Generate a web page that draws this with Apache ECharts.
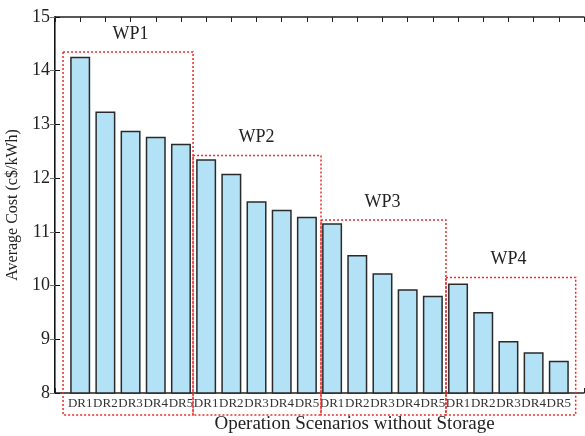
<!DOCTYPE html>
<html>
<head>
<meta charset="utf-8">
<script src="https://cdn.jsdelivr.net/npm/echarts@6/dist/echarts.min.js"></script>
<style>
    html, body { margin: 0; padding: 0; background: #fff; }
    #chart { width: 585px; height: 436px; }
</style>
</head>
<body>
<div id="chart"></div>
<script>
// scenario labels under each bar
var drLabels = ['DR1', 'DR2', 'DR3', 'DR4', 'DR5'];
var yTicks = [8, 9, 10, 11, 12, 13, 14, 15];

// average cost per wind penetration group (c$/kWh)
var wp1Cost = [14.26, 13.24, 12.88, 12.77, 12.64];
var wp2Cost = [12.35, 12.08, 11.57, 11.41, 11.28];
var wp3Cost = [11.16, 10.57, 10.23, 9.93, 9.81];
var wp4Cost = [10.04, 9.51, 8.97, 8.76, 8.60];

// dotted group boxes: [xLeft, xRight, yTop, yBottom]
var groupNames = ['WP1', 'WP2', 'WP3', 'WP4'];
var groupBoxes = [
    [0.32, 5.48, 14.35, 7.59],
    [5.48, 10.56, 12.42, 7.59],
    [10.56, 15.52, 11.22, 7.59],
    [15.52, 20.67, 10.15, 7.59]
];

var serifFont = "'Liberation Serif', 'DejaVu Serif', serif";

var barData = [];
[wp1Cost, wp2Cost, wp3Cost, wp4Cost].forEach(function (group, g) {
    group.forEach(function (v, i) {
        barData.push([g * 5 + i + 1, v]);
    });
});

var boxData = groupBoxes.map(function (b, i) {
    return [b[0], b[1], b[2], b[3], i];
});

// group label sits over the middle bar of each group
function groupCenter(idx) {
    return idx * 5 + 3;
}

var chart = echarts.init(document.getElementById('chart'));

chart.setOption({
    animation: false,
    grid: {
        left: 55, right: 1, top: 17, bottom: 43,
        containLabel: false,
        outerBoundsMode: 'none'
    },
    xAxis: [
        {
            type: 'value',
            min: 0,
            max: 21,
            interval: 1,
            splitLine: { show: false },
            axisLine: { lineStyle: { color: '#222', width: 1.5 } },
            axisTick: { inside: true, length: 5, lineStyle: { color: '#222' } },
            axisLabel: {
                margin: 4,
                fontFamily: serifFont,
                fontSize: 13,
                color: '#333',
                formatter: function (v) {
                    if (v < 1 || v > 20) return '';
                    return drLabels[(v - 1) % 5];
                }
            },
            name: 'Operation Scenarios without Storage',
            nameLocation: 'middle',
            nameGap: 20,
            nameTextStyle: {
                fontFamily: serifFont,
                fontSize: 19,
                color: '#222',
                padding: [0, 0, 0, 70]
            }
        },
        {
            type: 'value',
            position: 'top',
            min: 0,
            max: 21,
            interval: 1,
            splitLine: { show: false },
            axisLine: { lineStyle: { color: '#222', width: 1.5 } },
            axisTick: { inside: true, length: 5, lineStyle: { color: '#222' } },
            axisLabel: { show: false }
        }
    ],
    yAxis: [
        {
            type: 'value',
            min: yTicks[0],
            max: yTicks[yTicks.length - 1],
            interval: 1,
            splitLine: { show: false },
            axisLine: { lineStyle: { color: '#111', width: 2 } },
            axisTick: { inside: true, length: 5, lineStyle: { color: '#111' } },
            axisLabel: {
                margin: 5,
                fontFamily: serifFont,
                fontSize: 18,
                color: '#222'
            },
            name: 'Average Cost (c$/kWh)',
            nameLocation: 'middle',
            nameGap: 33,
            nameTextStyle: {
                fontFamily: serifFont,
                fontSize: 16,
                color: '#222'
            }
        },
        {
            type: 'value',
            position: 'right',
            min: yTicks[0],
            max: yTicks[yTicks.length - 1],
            interval: 1,
            splitLine: { show: false },
            axisLine: { lineStyle: { color: '#777', width: 1 } },
            axisTick: { inside: true, length: 5, lineStyle: { color: '#777' } },
            axisLabel: { show: false }
        }
    ],
    series: [
        {
            type: 'bar',
            data: barData,
            barWidth: 20,
            itemStyle: {
                color: '#b3e1f6',
                borderColor: '#2a2a2a',
                borderWidth: 1.5
            },
            z: 2
        },
        {
            // 虚线框 + 组名
            type: 'custom',
            data: boxData,
            clip: false,
            silent: true,
            z: 5,
            renderItem: function (params, api) {
                var p0 = api.coord([api.value(0), api.value(2)]);
                var p1 = api.coord([api.value(1), api.value(3)]);
                var mid = api.coord([groupCenter(api.value(4)), api.value(2)]);
                return {
                    type: 'group',
                    children: [
                        {
                            type: 'rect',
                            shape: { x: p0[0], y: p0[1], width: p1[0] - p0[0], height: p1[1] - p0[1] },
                            style: {
                                fill: null,
                                stroke: '#ee2a2a',
                                lineWidth: 1.5,
                                lineDash: [2, 2]
                            }
                        },
                        {
                            type: 'text',
                            x: mid[0],
                            y: p0[1] - 18,
                            style: {
                                text: groupNames[api.value(4)],
                                fontFamily: serifFont,
                                fontSize: 18,
                                fill: '#222',
                                align: 'center',
                                verticalAlign: 'middle'
                            }
                        }
                    ]
                };
            }
        }
    ]
});
</script>
</body>
</html>
